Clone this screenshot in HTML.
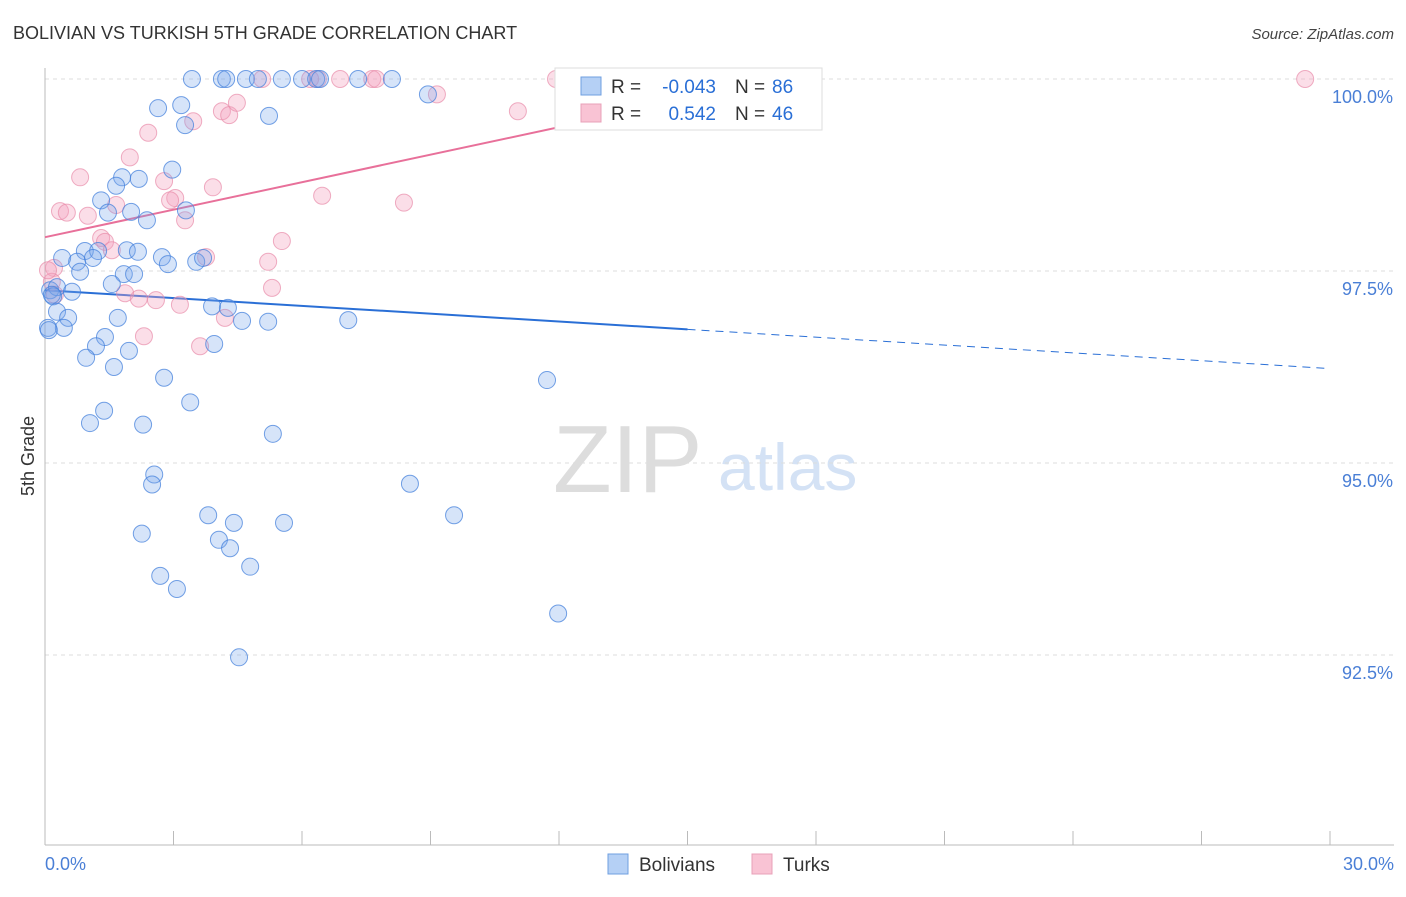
<!DOCTYPE html>
<html><head><meta charset="utf-8"><style>
body{margin:0;background:#fff;font-family:"Liberation Sans",sans-serif;}
svg text{font-family:"Liberation Sans",sans-serif;}
</style></head><body>
<svg id="chart" width="1406" height="892" viewBox="0 0 1406 892" xmlns="http://www.w3.org/2000/svg">
<text x="13" y="39" font-size="18" fill="#333">BOLIVIAN VS TURKISH 5TH GRADE CORRELATION CHART</text>
<text x="1394" y="39" font-size="15" fill="#444" text-anchor="end" font-style="italic">Source: ZipAtlas.com</text>
<text x="553" y="492" font-size="96" fill="#ddd" font-family="Liberation Serif,serif">ZIP</text>
<text x="718" y="490" font-size="66" fill="#d4e2f5">atlas</text>
<text transform="translate(34,456) rotate(-90)" font-size="18" fill="#333" text-anchor="middle">5th Grade</text>
<g id="grid"></g><g id="axes"></g><g id="trend"></g><g id="points"></g>
<g>
<rect x="555" y="68" width="267" height="62" fill="#fff" stroke="#ddd"/>
<rect x="581" y="77" width="20" height="18" fill="#b5d0f5" stroke="#6f9fe0"/>
<rect x="581" y="104" width="20" height="18" fill="#f9c3d4" stroke="#e8a0b8"/>
<text x="611" y="93" font-size="19" fill="#333">R =</text>
<text x="716" y="93" font-size="19" fill="#2a6fd6" text-anchor="end">-0.043</text>
<text x="735" y="93" font-size="19" fill="#333">N =</text>
<text x="772" y="93" font-size="19" fill="#2a6fd6">86</text>
<text x="611" y="120" font-size="19" fill="#333">R =</text>
<text x="716" y="120" font-size="19" fill="#2a6fd6" text-anchor="end">0.542</text>
<text x="735" y="120" font-size="19" fill="#333">N =</text>
<text x="772" y="120" font-size="19" fill="#2a6fd6">46</text>
</g>
<g>
<rect x="608" y="854" width="20" height="20" fill="#b5d0f5" stroke="#6f9fe0"/>
<text x="639" y="871" font-size="19" fill="#333">Bolivians</text>
<rect x="752" y="854" width="20" height="20" fill="#f9c3d4" stroke="#e8a0b8"/>
<text x="783" y="871" font-size="19" fill="#333">Turks</text>
</g>
</svg>
<script>
const yTicks=[100,97.5,95,92.5];
const yTickLabels=["100.0%","97.5%","95.0%","92.5%"];
const xTickLabels=["0.0%","30.0%"];
const bolX=[3.43,4.13,4.23,4.69,4.97,5.53,6.00,6.33,6.42,7.31,8.10,8.94,2.64,3.18,3.27,5.23,2.97,1.80,2.19,1.66,1.31,1.47,2.01,2.38,3.29,0.93,1.24,0.40,0.75,1.12,1.91,2.17,2.73,2.87,3.53,3.69,0.82,1.84,2.08,1.56,0.12,0.28,0.63,0.19,3.90,4.27,4.60,5.21,7.08,0.28,0.54,1.70,0.07,0.44,1.40,1.19,0.96,1.96,3.95,1.61,2.78,11.72,3.39,1.38,1.05,2.29,5.32,2.55,2.50,8.52,3.81,9.55,4.41,5.58,4.06,4.32,2.26,4.79,2.69,3.08,11.98,4.53,0.09,0.16];
const bolY=[100,100,100,100,100,100,100,100,100,100,100,99.80,99.62,99.66,99.40,99.52,98.82,98.72,98.70,98.61,98.42,98.26,98.27,98.16,98.29,97.76,97.76,97.67,97.62,97.67,97.77,97.75,97.68,97.59,97.62,97.67,97.49,97.46,97.46,97.33,97.25,97.29,97.23,97.17,97.04,97.02,96.85,96.84,96.86,96.97,96.89,96.89,96.76,96.76,96.64,96.52,96.37,96.46,96.55,96.25,96.11,96.08,95.79,95.68,95.52,95.50,95.38,94.85,94.72,94.73,94.32,94.32,94.22,94.22,94.00,93.89,94.08,93.65,93.53,93.36,93.04,92.47,96.73,97.19];
const turX=[5.07,6.19,6.37,6.89,7.64,7.73,11.93,12.17,12.26,29.42,9.15,11.04,4.13,4.30,4.48,3.46,2.41,1.98,0.82,2.78,3.04,3.92,0.35,0.51,1.00,1.66,3.27,6.47,8.38,2.92,1.31,1.40,1.56,5.53,0.21,0.16,0.23,3.76,5.21,5.30,1.87,2.19,2.59,3.15,4.20,3.62,2.31,0.07];
const turY=[100,100,100,100,100,100,100,100,100,100,99.80,99.58,99.58,99.53,99.69,99.45,99.30,98.98,98.72,98.67,98.45,98.59,98.28,98.26,98.22,98.36,98.16,98.48,98.39,98.42,97.93,97.88,97.77,97.89,97.54,97.36,97.19,97.68,97.62,97.28,97.21,97.14,97.12,97.06,96.89,96.52,96.65,97.51];
const bolTrend=[97.25,96.23];
const turTrend=[97.94,0.1194];
const X=v=>45+v/30*1285;
const Y=v=>79+(100-v)/2.5*192;
const NS="http://www.w3.org/2000/svg";
function mk(tag,attrs,parent){const e=document.createElementNS(NS,tag);for(const k in attrs)e.setAttribute(k,attrs[k]);parent.appendChild(e);return e;}
const grid=document.getElementById('grid'),axes=document.getElementById('axes'),trend=document.getElementById('trend'),pts=document.getElementById('points');
yTicks.forEach((t,i)=>{
 const l=mk('line',{x1:45,x2:1394,y1:Y(t),y2:Y(t),stroke:'#ddd','stroke-dasharray':'4,4'},grid);
 
 
 const tx=mk('text',{x:1393,y:Y(t)+24,'font-size':18,fill:'#4a7fd6','text-anchor':'end'},grid);
 tx.textContent=yTickLabels[i];
 
 
});
let a=mk('line',{x1:45,x2:45,y1:68,y2:845,stroke:'#bbb'},axes);


a=mk('line',{x1:45,x2:1394,y1:845,y2:845,stroke:'#bbb'},axes);


for(let i=0;i<=10;i++){
 const t=mk('line',{x1:X(i*3),x2:X(i*3),y1:831,y2:845,stroke:'#bbb'},axes);
 
 
}
[[0,'start',45],[30,'end',1394]].forEach((d,i)=>{
 const tx=mk('text',{x:d[2],y:870,'font-size':18,fill:'#4a7fd6','text-anchor':d[1]},axes);
 tx.textContent=xTickLabels[i];
 
 
});
function dot(x,y,fill,stroke,name){
 const c=mk('circle',{cx:X(x),cy:Y(y),r:8.5,fill:fill,stroke:stroke,'stroke-width':1},pts);
 
 
}
turX.forEach((x,i)=>dot(x,turY[i],'rgba(244,160,188,0.35)','rgba(232,140,170,0.7)','turks-point'));
bolX.forEach((x,i)=>dot(x,bolY[i],'rgba(120,165,235,0.3)','rgba(70,130,220,0.75)','bolivians-point'));
const bAt=x=>bolTrend[0]+(bolTrend[1]-bolTrend[0])*x/30;
let l=mk('line',{x1:X(0),y1:Y(bAt(0)),x2:X(15),y2:Y(bAt(15)),stroke:'#2a6fd6','stroke-width':2},trend);


l=mk('line',{x1:X(15),y1:Y(bAt(15)),x2:X(30),y2:Y(bAt(30)),stroke:'#2a6fd6','stroke-width':1,'stroke-dasharray':'8,6'},trend);


const tEnd=(100-turTrend[0])/turTrend[1];
l=mk('line',{x1:X(0),y1:Y(turTrend[0]),x2:X(tEnd),y2:Y(100),stroke:'#e8709a','stroke-width':2},trend);


</script>
</body></html>
